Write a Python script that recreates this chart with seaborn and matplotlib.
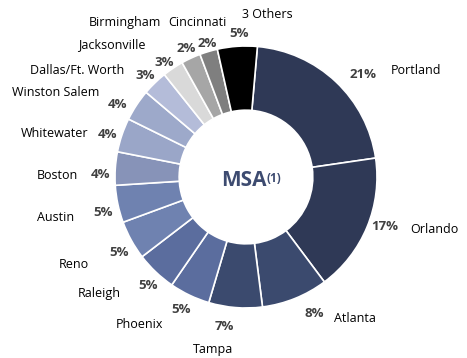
import seaborn as sns
import matplotlib.pyplot as plt
import numpy as np

# MSA breakdown (share of total, %)
msa_names = ['Portland', 'Orlando', 'Atlanta', 'Tampa', 'Phoenix', 'Raleigh', 'Reno',
             'Austin', 'Boston', 'Whitewater', 'Winston Salem', 'Dallas/Ft. Worth',
             'Jacksonville', 'Birmingham', 'Cincinnati', '3 Others']
msa_share = [21.3, 17.1, 8.2, 6.6, 5.0, 5.0, 4.8, 4.6, 4.1, 4.2, 3.9, 3.1, 2.6, 2.4, 2.2, 4.9]
msa_colors = ['#2F3956', '#2F3956', '#3B4A6E', '#3B4A6E', '#5B6D9E', '#5B6D9E', '#6F82B0',
              '#6F82B0', '#8793B8', '#9AA6C8', '#9DA9CA', '#B4BCD9', '#D9D9D9', '#A6A6A6',
              '#7F7F7F', '#000000']

# label nudges (pixels): percentage relative to its radial spot,
# city name relative to its percentage
pct_offsets = [(16, -4), (3, 7), (13, 0), (-10, -3), (-2, 0), (3, -2), (2, -5), (1, -5),
               (1, -7), (0, -4), (-6, -8), (1, -4), (0, -7), (2, -5), (3, -7), (3, -3)]
name_offsets = [(28, 4, 'left'), (26, -3, 'left'), (20, -5, 'left'), (-11, -23, 'center'),
                (-18, -15, 'right'), (-27, -8, 'right'), (-31, -12, 'right'), (-29, -5, 'right'),
                (-23, -1, 'right'), (-19, 1, 'right'), (-18, 12, 'right'), (-21, 5, 'right'),
                (-19, 18, 'right'), (-25, 26, 'right'), (-10, 21, 'center'), (28, 19, 'center')]

sns.set_style('white')
plt.rcParams['font.family'] = ['Open Sans', 'DejaVu Sans']

fig = plt.figure(figsize=(4.67, 3.58), dpi=100)
ax = fig.add_axes([0, 0, 1, 1])

wedges, _ = ax.pie(msa_share, colors=msa_colors, startangle=85, counterclock=False,
                   radius=1.0, wedgeprops=dict(width=0.49, edgecolor='white', linewidth=1.2))

total = sum(msa_share)
for w, name, val, (px, py), (dx, dy, ha) in zip(wedges, msa_names, msa_share,
                                                pct_offsets, name_offsets):
    ang = np.deg2rad((w.theta1 + w.theta2) / 2)
    x, y = 1.12 * np.cos(ang), 1.12 * np.sin(ang)
    ax.annotate(f'{round(val / total * 100)}%', xy=(x, y), xytext=(px, py),
                textcoords='offset pixels', ha='center', va='center',
                fontsize=9.5, fontweight='bold', color='#404040')
    ax.annotate(name, xy=(x, y), xytext=(px + dx, py + dy), textcoords='offset pixels',
                ha=ha, va='center', fontsize=9, color='black')

ax.text(-0.02, -0.027, 'MSA', ha='center', va='center', fontsize=15,
        fontweight='bold', color='#3D4B70')
ax.text(0.16, -0.012, '(1)', ha='left', va='center', fontsize=8.5,
        fontweight='bold', color='#3D4B70')

ax.text(1.33, -1.385, 'Notes:', ha='left', va='top', fontsize=8, color='black')

ax.set_xlim(-246 / 131, (467 - 246) / 131)
ax.set_ylim(-(358 - 177) / 131, 177 / 131)
ax.set_aspect('auto')
ax.axis('off')

fig.savefig('out.png', dpi=100)
